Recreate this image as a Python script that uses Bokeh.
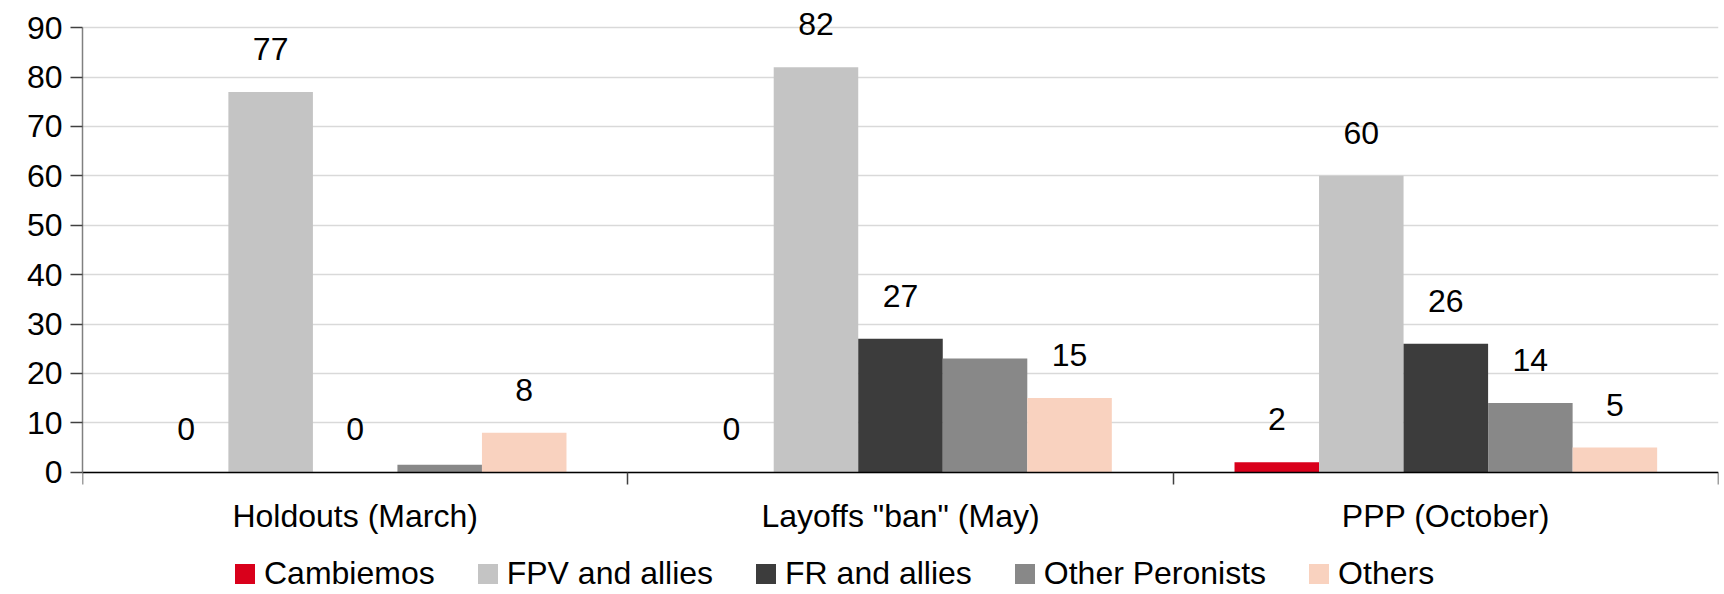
from bokeh.plotting import figure
from bokeh.models import (Range1d, FixedTicker, Legend, LegendItem, ColumnDataSource)
from bokeh.transform import dodge
from bokeh.core.properties import value
from bokeh.embed import file_html
from bokeh.resources import INLINE

categories = ["Holdouts (March)", "Layoffs \"ban\" (May)", "PPP (October)"]
series = ["Cambiemos", "FPV and allies", "FR and allies", "Other Peronists", "Others"]
colors = ["#d9001b", "#c4c4c4", "#3c3c3c", "#888888", "#f9d2bf"]

cambiemos = [0, 0, 2]
fpv = [77, 82, 60]
fr = [0, 27, 26]
other_peronists = [1.5, 23, 14]
others = [8, 15, 5]

labels_cambiemos = ["0", "0", "2"]
labels_fpv = ["77", "82", "60"]
labels_fr = ["0", "27", "26"]
labels_other_peronists = ["", "", "14"]
labels_others = ["8", "15", "5"]

yticks = [0, 10, 20, 30, 40, 50, 60, 70, 80, 90]

values = [cambiemos, fpv, fr, other_peronists, others]
labels = [labels_cambiemos, labels_fpv, labels_fr, labels_other_peronists, labels_others]

FONT = "Liberation Sans"
FS = "32px"

p = figure(width=1724, height=594, output_backend="svg", toolbar_location=None,
           x_range=Range1d(0, 3), y_range=Range1d(-24.76, 95.5),
           min_border_left=82, min_border_right=6, min_border_top=0, min_border_bottom=0)
p.outline_line_color = None
p.background_fill_color = "white"

centers = [i + 0.5 for i in range(len(categories))]
bw = 0.155
items = []
for i, (name, vals, labs, col) in enumerate(zip(series, values, labels, colors)):
    src = ColumnDataSource(dict(x=centers, top=vals, lab=labs))
    off = (i - 2) * bw
    r = p.vbar(x=dodge("x", off, range=p.x_range), top="top", bottom=0, width=bw, source=src,
               fill_color=col, line_color=None)
    p.text(x=dodge("x", off, range=p.x_range), y="top", text="lab", source=src,
           text_align="center", text_baseline="middle", y_offset=-43,
           text_font=value(FONT), text_font_size=FS, text_color="black")
    items.append(LegendItem(label=name, renderers=[r]))

# y axis
yax = p.yaxis[0]
yax.ticker = FixedTicker(ticks=yticks)
yax.bounds = (0, 90)
yax.major_label_text_font = FONT
yax.major_label_text_font_size = FS
yax.major_label_text_color = "black"
yax.axis_line_color = "#808080"
yax.axis_line_width = 1.5
yax.major_tick_line_color = "#404040"
yax.major_tick_line_width = 1.5
yax.major_tick_out = 12
yax.major_tick_in = 0
yax.minor_tick_line_color = None
yax.major_label_standoff = 8

# x axis (drawn at y = 0)
xax = p.xaxis[0]
xax.fixed_location = 0
xax.ticker = FixedTicker(ticks=centers, minor_ticks=[0, 1, 2, 3])
xax.major_label_overrides = {c: lab for c, lab in zip(centers, categories)}
xax.major_label_text_font = FONT
xax.major_label_text_font_size = FS
xax.major_label_text_color = "black"
xax.axis_line_color = "black"
xax.axis_line_width = 1.5
xax.major_tick_line_color = None
xax.major_tick_out = 0
xax.major_tick_in = 0
xax.minor_tick_line_color = "#404040"
xax.minor_tick_line_width = 1.5
xax.minor_tick_out = 12
xax.minor_tick_in = 0
xax.major_label_standoff = 14

p.xgrid.grid_line_color = None
p.ygrid.ticker = FixedTicker(ticks=yticks)
p.ygrid.bounds = (0, 90)
p.ygrid.grid_line_color = "#d9d9d9"
p.ygrid.grid_line_width = 1.5

legend = Legend(items=items, orientation="horizontal", location=(150, 2),
                label_text_font=FONT, label_text_font_size=FS, label_text_color="black",
                glyph_width=25, glyph_height=25, label_standoff=7, spacing=40,
                border_line_color=None, background_fill_alpha=0, padding=0, margin=0)
p.add_layout(legend, "center")

open("out.html", "w").write(file_html(p, INLINE))
